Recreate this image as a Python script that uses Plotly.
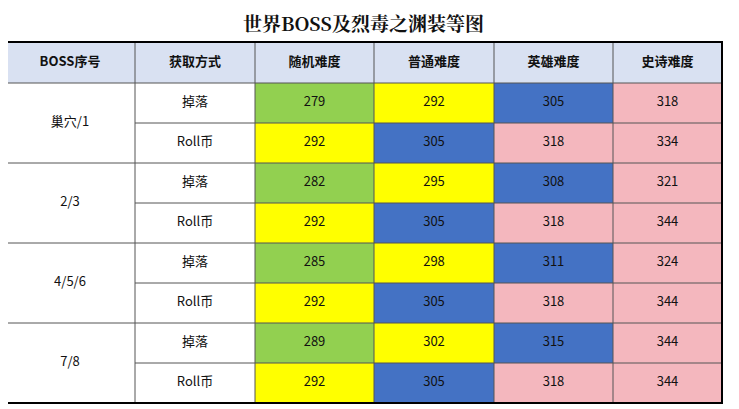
import plotly.graph_objects as go

title = "世界BOSS及烈毒之渊装等图"
headers = ["BOSS序号", "获取方式", "随机难度", "普通难度", "英雄难度", "史诗难度"]
bosses = ["巢穴/1", "2/3", "4/5/6", "7/8"]
methods = ["掉落", "Roll币"]
random_vals = [279, 292, 282, 292, 285, 292, 289, 292]
normal_vals = [292, 305, 295, 305, 298, 305, 302, 305]
heroic_vals = [305, 318, 308, 318, 311, 318, 315, 318]
mythic_vals = [318, 334, 321, 344, 324, 344, 344, 344]

col_edges = [5, 135, 255, 374, 494, 613, 722]
top, hh, rh = 42, 41, 40

def color(v):
    if v < 290: return "#92D050"
    if v < 305: return "#FFFF00"
    if v < 318: return "#4472C4"
    return "#F4B7BE"

fig = go.Figure()
shapes = []
tx, ty, tt, tb = [], [], [], []
shapes.append(dict(type="rect", x0=col_edges[0], x1=col_edges[-1], y0=top, y1=top+hh,
                   fillcolor="#D9E1F2", line=dict(width=0), layer="below"))
for i, h in enumerate(headers):
    tb.append(((col_edges[i]+col_edges[i+1])/2, top+hh/2, "<b>"+h+"</b>"))
y0 = top + hh
cols = [random_vals, normal_vals, heroic_vals, mythic_vals]
for r in range(len(random_vals)):
    ya, yb = y0 + r*rh, y0 + (r+1)*rh
    tx.append((col_edges[1]+col_edges[2])/2); ty.append((ya+yb)/2); tt.append(methods[r % 2])
    for c, vals in enumerate(cols):
        v = vals[r]
        shapes.append(dict(type="rect", x0=col_edges[c+2], x1=col_edges[c+3], y0=ya, y1=yb,
                           fillcolor=color(v), line=dict(width=0), layer="below"))
        tx.append((col_edges[c+2]+col_edges[c+3])/2); ty.append((ya+yb)/2); tt.append(str(v))
for b, name in enumerate(bosses):
    ya = y0 + b*2*rh
    tx.append((col_edges[0]+col_edges[1])/2); ty.append(ya+rh); tt.append(name)
bottom = y0 + len(random_vals)*rh
lc = "#555555"
for xe in col_edges[1:-1]:
    shapes.append(dict(type="line", x0=xe, x1=xe, y0=top, y1=bottom, line=dict(color=lc, width=1)))
shapes.append(dict(type="line", x0=col_edges[0], x1=col_edges[-1], y0=y0, y1=y0, line=dict(color=lc, width=1)))
for r in range(1, len(random_vals)):
    xs = col_edges[0] if r % 2 == 0 else col_edges[1]
    shapes.append(dict(type="line", x0=xs, x1=col_edges[-1], y0=y0+r*rh, y1=y0+r*rh, line=dict(color=lc, width=1)))
shapes.append(dict(type="rect", x0=col_edges[0], x1=col_edges[-1], y0=top, y1=bottom,
                   line=dict(color="black", width=2)))

fig.add_trace(go.Scatter(x=tx, y=ty, text=tt, mode="text", textfont=dict(size=13, color="#111", family="Noto Sans CJK SC"), hoverinfo="skip"))
fig.add_trace(go.Scatter(x=[t[0] for t in tb], y=[t[1] for t in tb], text=[t[2] for t in tb], mode="text",
                         textfont=dict(size=13, color="#111", family="Noto Sans CJK SC"), hoverinfo="skip"))
fig.add_annotation(x=(col_edges[0]+col_edges[-1])/2, y=22, text="<b>"+title+"</b>", showarrow=False,
                   font=dict(size=19, color="#111", family="Noto Serif CJK SC, Noto Sans CJK SC"))
fig.update_layout(width=739, height=409, margin=dict(l=0, r=0, t=0, b=0), showlegend=False,
                  plot_bgcolor="white", paper_bgcolor="white", shapes=shapes,
                  xaxis=dict(range=[8, 747], visible=False, fixedrange=True),
                  yaxis=dict(range=[417, 8], visible=False, fixedrange=True))
fig.write_html("out.html", config={"displayModeBar": False})
